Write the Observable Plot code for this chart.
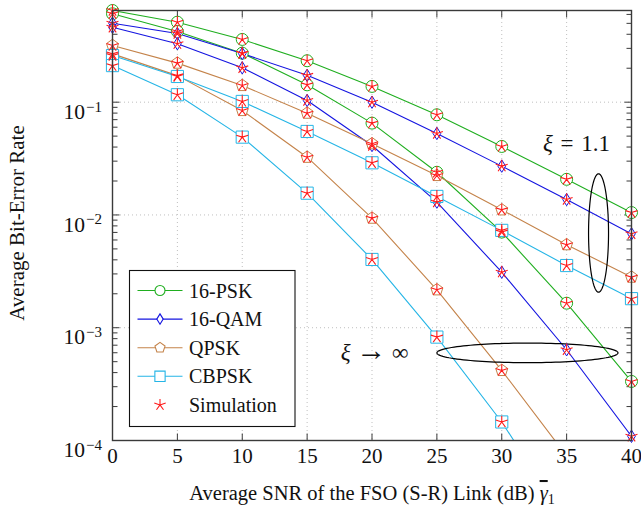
<!DOCTYPE html>
<html>
<head>
<meta charset="utf-8">
<script src="https://cdn.jsdelivr.net/npm/d3@7"></script>
<script src="https://cdn.jsdelivr.net/npm/@observablehq/plot@0.6"></script>
<style>
html,body{margin:0;padding:0;background:#fff;}
#chart svg{display:block;}
</style>
</head>
<body>
<div id="chart"></div>
<script>
// ---------------- data ----------------
const snr = [0, 5, 10, 15, 20, 25, 30, 35, 40];
const psk16_xi11  = [0.65, 0.512, 0.360, 0.233, 0.138, 0.0773, 0.0405, 0.0207, 0.0105];
const psk16_inf   = [0.608, 0.424, 0.272, 0.1425, 0.0652, 0.0239, 0.00705, 0.00165, 0.000334];
const qam16_xi11  = [0.501, 0.406, 0.270, 0.173, 0.100, 0.0528, 0.0271, 0.0137, 0.00681];
const qam16_inf   = [0.462, 0.330, 0.2017, 0.1035, 0.0413, 0.0130, 0.00311, 0.000638, 0.000109];
const qpsk_xi11   = [0.318, 0.222, 0.1406, 0.0799, 0.0428, 0.0224, 0.0111, 0.00545, 0.00281];
const qpsk_inf    = [0.268, 0.172, 0.0844, 0.0325, 0.00937, 0.00217, 0.000418, 0.000073, null];
const cbpsk_xi11  = [0.259, 0.169, 0.1015, 0.0550, 0.0290, 0.0146, 0.00730, 0.00356, 0.00181];
const cbpsk_inf   = [0.211, 0.1164, 0.0490, 0.0156, 0.00403, 0.000826, 0.000146, 0.000019, null];

const seriesNames  = ["16-PSK", "16-QAM", "QPSK", "CBPSK"];
const seriesColors = ["#1fae1f", "#1414e0", "#c4834a", "#25b5e6"];
const simName  = "Simulation";
const simColor = "#ff1a1a";

const xTicks  = [0, 5, 10, 15, 20, 25, 30, 35, 40];
const yMajor  = [1e-4, 1e-3, 1e-2, 1e-1];
const yDomain = [1e-4, 0.65];

const xLabel = "Average SNR of the FSO (S-R) Link (dB) ";
const yLabel = "Average Bit-Error Rate";

// annotations (data coordinates)
const annoText = [
  {x: 35.76, y: 0.043,   text: "ξ = 1.1"},
  {x: 20.2,  y: 6.04e-4, text: "ξ → ∞"}
];
const ellipses = [
  {id: "xi11", cx: 37.46, cyLog: -2.160, rx: 0.77, ryLog: 0.525},
  {id: "xiInf", cx: 31.98, cyLog: -3.223, rx: 6.98, ryLog: 0.087}
];

// ---------------- symbols ----------------
const R = s => Math.sqrt(s / Math.PI);
const symCircle = {draw(c, s) { const r = R(s); c.moveTo(r, 0); c.arc(0, 0, r, 0, 2 * Math.PI); c.closePath(); }};
const symDiamond = {draw(c, s) { const r = R(s), w = r * 0.62; c.moveTo(0, -r); c.lineTo(w, 0); c.lineTo(0, r); c.lineTo(-w, 0); c.closePath(); }};
const symPentagon = {draw(c, s) { const r = R(s); for (let k = 0; k < 5; k++) { const a = -Math.PI / 2 + k * 2 * Math.PI / 5; const x = r * Math.cos(a), y = r * Math.sin(a); if (k) c.lineTo(x, y); else c.moveTo(x, y); } c.closePath(); }};
const symSquare = {draw(c, s) { const r = R(s) * 0.95; c.moveTo(-r, -r); c.lineTo(r, -r); c.lineTo(r, r); c.lineTo(-r, r); c.closePath(); }};
const symStar = {draw(c, s) { const r = R(s); for (let k = 0; k < 5; k++) { const a = -Math.PI / 2 + k * 2 * Math.PI / 5; c.moveTo(0, 0); c.lineTo(r * Math.cos(a), r * Math.sin(a)); } }};
const tickUp    = {draw(c, s) { const r = R(s); c.moveTo(0, 0); c.lineTo(0, -r); }};
const tickDown  = {draw(c, s) { const r = R(s); c.moveTo(0, 0); c.lineTo(0, r); }};
const tickRight = {draw(c, s) { const r = R(s); c.moveTo(0, 0); c.lineTo(r, 0); }};
const tickLeft  = {draw(c, s) { const r = R(s); c.moveTo(0, 0); c.lineTo(-r, 0); }};
const seriesSymbols = [symCircle, symDiamond, symPentagon, symSquare];
const seriesR = [6, 6.2, 6.3, 6.4];

// ---------------- tables ----------------
const curves = [
  {series: "16-PSK", xi: "1.1", values: psk16_xi11},
  {series: "16-PSK", xi: "inf", values: psk16_inf},
  {series: "16-QAM", xi: "1.1", values: qam16_xi11},
  {series: "16-QAM", xi: "inf", values: qam16_inf},
  {series: "QPSK",   xi: "1.1", values: qpsk_xi11},
  {series: "QPSK",   xi: "inf", values: qpsk_inf},
  {series: "CBPSK",  xi: "1.1", values: cbpsk_xi11},
  {series: "CBPSK",  xi: "inf", values: cbpsk_inf}
];
const rows = curves.flatMap(c => snr.map((x, i) => ({series: c.series, xi: c.xi, snr: x, ber: c.values[i]}))).filter(d => d.ber != null);
const visible = rows.filter(d => d.ber >= yDomain[0] * 0.99);
const yMinor = d3.range(-4, 0).flatMap(k => d3.range(2, 10).map(m => m * Math.pow(10, k))).filter(v => v < yDomain[1]);
const ellipsePts = ellipses.flatMap(e => d3.range(0, 361, 3).map(t => {
  const a = t * Math.PI / 180;
  return {id: e.id, x: e.cx + e.rx * Math.cos(a), y: Math.pow(10, e.cyLog + e.ryLog * Math.sin(a))};
}));

const serif = "'Liberation Serif', 'Times New Roman', 'DejaVu Serif', serif";
const axisColor = "#3a3a3a";

const plot = Plot.plot({
  width: 641, height: 513,
  marginLeft: 112, marginRight: 10, marginTop: 10, marginBottom: 73,
  style: {fontFamily: serif, fontSize: "21px", background: "#fff", color: "#111"},
  x: {domain: [0, 40], ticks: xTicks, tickSize: 0, tickPadding: 8, label: null},
  y: {type: "log", domain: yDomain, ticks: yMajor, tickSize: 0, tickPadding: 10.5, label: null,
      tickFormat: d => "10^" + Math.round(Math.log10(d))},
  color: {domain: seriesNames, range: seriesColors},
  marks: [
    Plot.ruleX(xTicks.slice(1, -1), {stroke: "#bfbfbf", strokeDasharray: "1,3", strokeWidth: 1}),
    Plot.ruleY(yMajor.slice(1), {stroke: "#bfbfbf", strokeDasharray: "1,3", strokeWidth: 1}),
    Plot.line(rows, {x: "snr", y: "ber", z: d => d.series + d.xi, stroke: "series", strokeWidth: 1.1, clip: true}),
    Plot.line(ellipsePts, {x: "x", y: "y", z: "id", stroke: "#000", strokeWidth: 1.2}),
    Plot.text(annoText, {x: "x", y: "y", text: "text", fontSize: 23, fontFamily: serif, fill: "#111"}),
    // inward ticks
    Plot.dot(xTicks.slice(1, -1), {x: d => d, y: () => yDomain[0], symbol: tickUp, r: 7, stroke: axisColor, fill: "none", strokeWidth: 1}),
    Plot.dot(xTicks.slice(1, -1), {x: d => d, y: () => yDomain[1], symbol: tickDown, r: 7, stroke: axisColor, fill: "none", strokeWidth: 1}),
    Plot.dot(yMajor.slice(1), {x: () => 0, y: d => d, symbol: tickRight, r: 7, stroke: axisColor, fill: "none", strokeWidth: 1}),
    Plot.dot(yMajor.slice(1), {x: () => 40, y: d => d, symbol: tickLeft, r: 7, stroke: axisColor, fill: "none", strokeWidth: 1}),
    Plot.dot(yMinor, {x: () => 0, y: d => d, symbol: tickRight, r: 5, stroke: axisColor, fill: "none", strokeWidth: 1}),
    Plot.dot(yMinor, {x: () => 40, y: d => d, symbol: tickLeft, r: 5, stroke: axisColor, fill: "none", strokeWidth: 1}),
    // series markers
    ...seriesNames.map((name, i) => Plot.dot(visible.filter(d => d.series === name), {
      x: "snr", y: "ber", symbol: seriesSymbols[i], r: seriesR[i], stroke: seriesColors[i], fill: "#fff", strokeWidth: 1
    })),
    // simulation stars
    Plot.dot(visible, {x: "snr", y: "ber", symbol: symStar, r: 6.3, stroke: simColor, fill: "none", strokeWidth: 1.1}),
    Plot.frame({stroke: axisColor, strokeWidth: 1.4})
  ]
});

document.getElementById("chart").appendChild(plot);
const svg = d3.select(plot);
svg.attr("font-family", serif).attr("font-size", 21);
svg.selectAll("g").each(function () {
  if (this.hasAttribute("font-family")) this.setAttribute("font-family", serif);
});

// tick labels: serif font, y as 10^k with superscript; annotations with italic xi
svg.selectAll("text").each(function () {
  const txt = this.textContent;
  const t = d3.select(this);
  const m = /^10\^(-?\d+)$/.exec(txt);
  if (m) {
    t.attr("font-family", serif).style("font-family", serif).style("font-size", "21.5px");
    t.text("10").attr("dy", "0.45em");
    t.append("tspan").attr("dx", 1).attr("dy", "-0.48em").style("font-size", "15px").text("\u2212" + m[1].replace("-", ""));
  } else if (/^\d+$/.test(txt)) {
    t.attr("font-family", serif).style("font-family", serif).style("font-size", "21px");
  } else if (txt.startsWith("ξ")) {
    const parts = txt.slice(1).trim().split(" ");
    t.text("").style("font-family", serif).style("font-size", "23px");
    t.append("tspan").style("font-style", "italic").text("ξ");
    if (parts[0] === "→") {
      t.append("tspan").text("\u2005");
      t.append("tspan").style("font-size", "30px").text("→");
      t.append("tspan").text("\u2005" + parts.slice(1).join(" "));
    } else {
      t.append("tspan").text("\u2004" + parts.join("\u2004"));
    }
  }
});

// axis labels
svg.append("text")
  .attr("transform", "translate(24,223) rotate(-90)")
  .attr("text-anchor", "middle").style("font-size", "21px").style("font-family", serif).attr("fill", "#111")
  .text(yLabel);
const xl = svg.append("text")
  .attr("x", 372).attr("y", 500)
  .attr("text-anchor", "middle").style("font-size", "20.5px").style("font-family", serif).attr("fill", "#111");
xl.append("tspan").text(xLabel);
xl.append("tspan").style("font-style", "italic").style("text-decoration", "overline").text("γ");
xl.append("tspan").style("font-size", "14px").attr("dy", 4).text("1");

// legend
const lg = svg.append("g");
lg.append("rect").attr("x", 129.5).attr("y", 270.5).attr("width", 165.5).attr("height", 156)
  .attr("fill", "#fff").attr("stroke", "#111").attr("stroke-width", 1.1);
const entries = seriesNames.map((n, i) => ({name: n, color: seriesColors[i], symbol: seriesSymbols[i], r: seriesR[i] - 1, line: true, fill: "#fff"}))
  .concat([{name: simName, color: simColor, symbol: symStar, r: 6, line: false, fill: "none"}]);
entries.forEach((e, i) => {
  const y = 290.5 + i * 28.6;
  if (e.line) lg.append("line").attr("x1", 137.5).attr("x2", 182.5).attr("y1", y).attr("y2", y).attr("stroke", e.color).attr("stroke-width", 1.1);
  lg.append("path").attr("transform", `translate(160,${y})`)
    .attr("d", d3.symbol(e.symbol, Math.PI * e.r * e.r)())
    .attr("fill", e.fill).attr("stroke", e.color).attr("stroke-width", 1.1);
  lg.append("text").attr("x", 189).attr("y", y).attr("dy", "0.35em").attr("text-anchor", "start")
    .style("font-size", "20px").style("font-family", serif).attr("fill", "#111").text(e.name);
});
</script>
</body>
</html>
